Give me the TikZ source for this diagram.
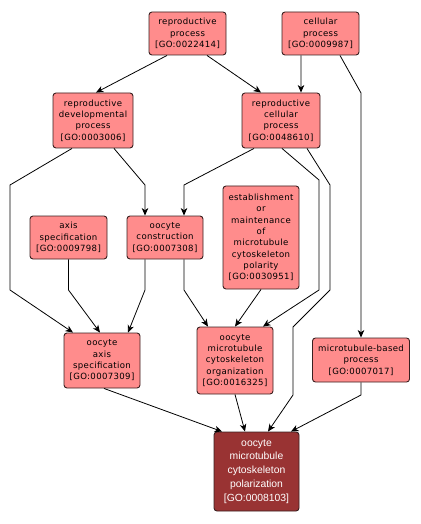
\documentclass[tikz,border=0pt]{standalone}
\usepackage{fontspec}
\setmainfont{DejaVu Sans}[LetterSpace=4]
\newfontfamily\targetfont{Liberation Sans}
\usetikzlibrary{arrows.meta}
\definecolor{goterm}{HTML}{FF8C8C}
\definecolor{goquery}{HTML}{993333}
\definecolor{gorim}{HTML}{3A2020}
\tikzset{term/.style={draw=gorim,line width=0.9bp,rounded corners=3bp,fill=goterm,align=center,
  inner sep=0pt,font=\fontsize{8.6}{11.4}\selectfont},
  query/.style={term,fill=goquery,text=white,font=\targetfont\fontsize{10.4}{13.9}\selectfont},
  edge/.style={-{Stealth[length=7.5bp,width=6.5bp,inset=2.2bp]},line width=0.8bp,draw=black}}

\begin{document}
\begin{tikzpicture}[x=1bp,y=-1bp]
\useasboundingbox (0,0) rectangle (420,524);
% terms
\node[term,minimum width=77bp,minimum height=43bp] (rp) at (187.5,33.5) {reproductive\\process\\{[GO:0022414]}};
\node[term,minimum width=77bp,minimum height=43bp] (cp) at (320.5,33.5) {cellular\\process\\{[GO:0009987]}};
\node[term,minimum width=80bp,minimum height=55bp] (rdp) at (93,120.5) {reproductive\\developmental\\process\\{[GO:0003006]}};
\node[term,minimum width=78bp,minimum height=55bp] (rcp) at (281,120.5) {reproductive\\cellular\\process\\{[GO:0048610]}};
\node[term,minimum width=77bp,minimum height=43bp] (as) at (68.5,237.5) {axis\\specification\\{[GO:0009798]}};
\node[term,minimum width=76bp,minimum height=43bp] (oc) at (165,237.5) {oocyte\\construction\\{[GO:0007308]}};
\node[term,minimum width=76bp,minimum height=103bp] (em) at (261,237.5) {establishment\\or\\maintenance\\of\\microtubule\\cytoskeleton\\polarity\\{[GO:0030951]}};
\node[term,minimum width=76bp,minimum height=55bp] (oas) at (102,360.5) {oocyte\\axis\\specification\\{[GO:0007309]}};
\node[term,minimum width=76bp,minimum height=67bp] (omco) at (235,360.5) {oocyte\\microtubule\\cytoskeleton\\organization\\{[GO:0016325]}};
\node[term,minimum width=97bp,minimum height=44bp] (mbp) at (361,360) {microtubule-based\\process\\{[GO:0007017]}};
\node[query,minimum width=85bp,minimum height=79bp] (omcp) at (256.5,471.5) {oocyte\\microtubule\\cytoskeleton\\polarization\\{[GO:0008103]}};
% is-a links
\draw[edge] ([xshift=-20.5bp]rp.south) -- ([xshift=3bp]rdp.north);
\draw[edge] ([xshift=19.5bp]rp.south) -- ([xshift=-20bp]rcp.north);
\draw[edge] ([xshift=-19.5bp]cp.south) -- ([xshift=20bp]rcp.north);
\draw[edge] ([xshift=19.5bp]cp.south) -- (361,93) -- (mbp.north);
\draw[edge] ([xshift=-21bp]rdp.south) -- (10,185) -- (10,290) -- ([xshift=-29bp]oas.north);
\draw[edge] ([xshift=21bp]rdp.south) -- (145,185) -- ([xshift=-20bp]oc.north);
\draw[edge] ([xshift=-27bp]rcp.south) -- (184,185) -- ([xshift=19bp]oc.north);
\draw[edge] ([xshift=1bp]rcp.south) -- (319,180) -- (319,290) -- ([xshift=28bp]omco.north);
\draw[edge] ([xshift=26bp]rcp.south) -- (330,185) -- (330,290) -- (293,327) -- (293,395) -- ([xshift=11.5bp]omcp.north);
\draw[edge] (as.south) -- (68.5,290) -- ([xshift=-2bp]oas.north);
\draw[edge] ([xshift=-20bp]oc.south) -- (145,290) -- ([xshift=26bp]oas.north);
\draw[edge] ([xshift=19bp]oc.south) -- (184,290) -- ([xshift=-27bp]omco.north);
\draw[edge] (em.south) -- (omco.north);
\draw[edge] ([xshift=2bp]oas.south) -- ([xshift=-34.5bp]omcp.north);
\draw[edge] (omco.south) -- ([xshift=-11.5bp]omcp.north);
\draw[edge] (mbp.south) -- (361,395) -- ([xshift=34.5bp]omcp.north);
\end{tikzpicture}
\end{document}
